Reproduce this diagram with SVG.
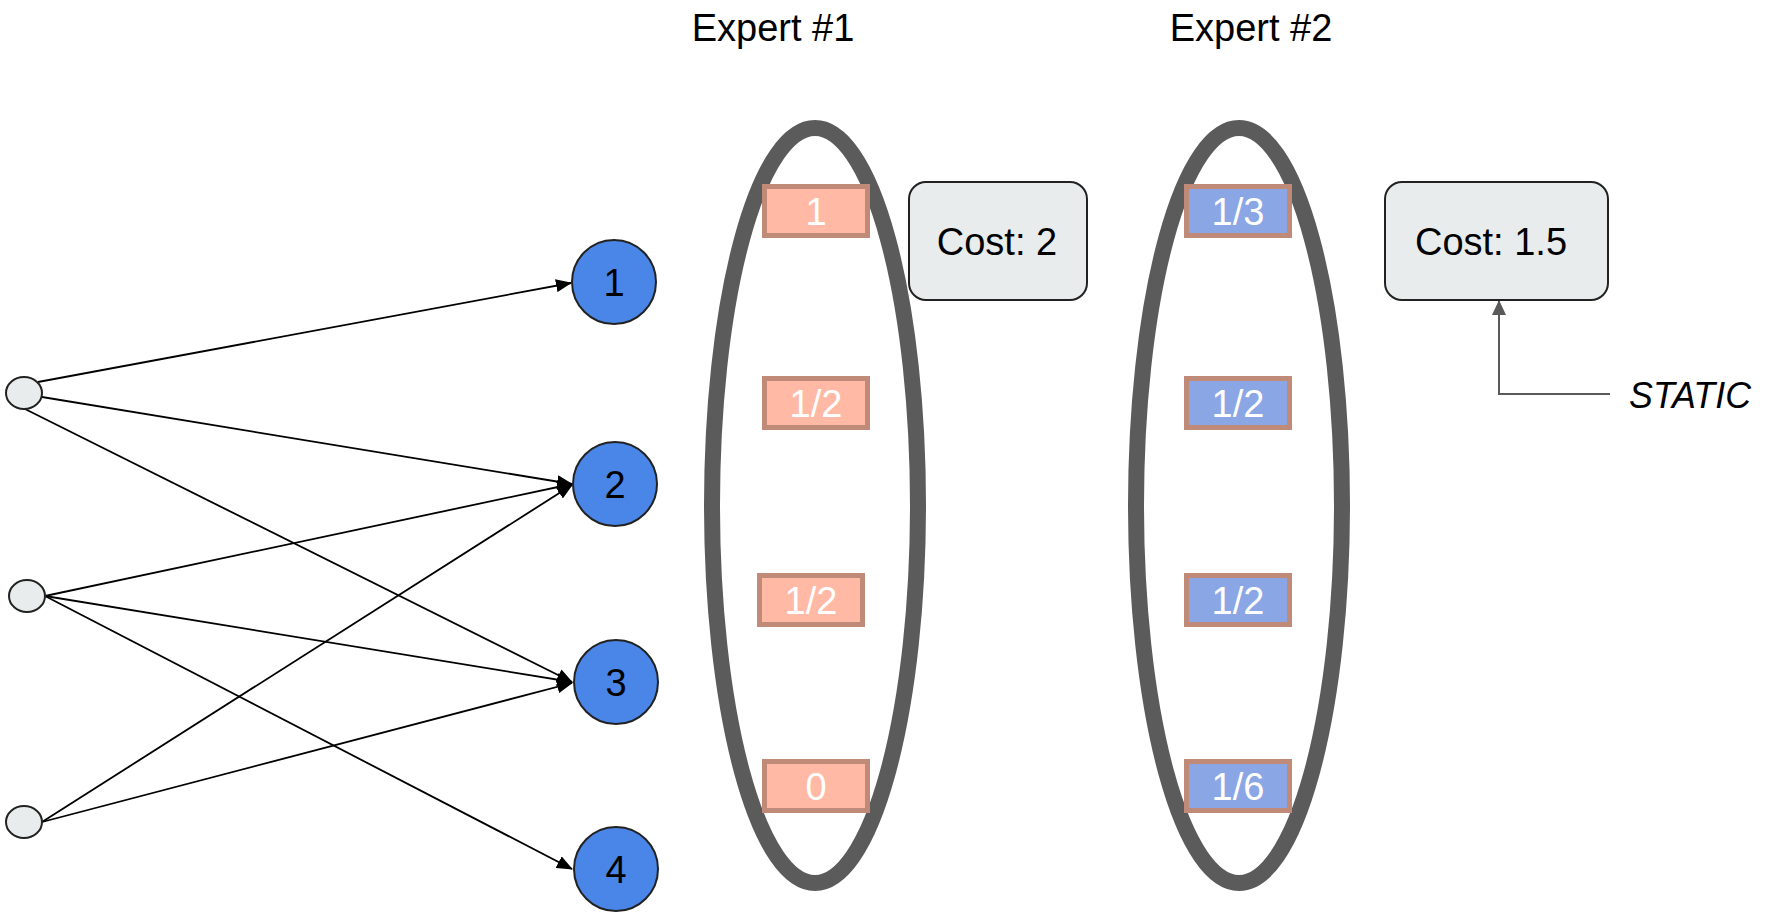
<svg xmlns="http://www.w3.org/2000/svg" width="1775" height="916" viewBox="0 0 1775 916">
<defs>
<marker id="ah" markerUnits="userSpaceOnUse" viewBox="0 0 16 13" refX="15" refY="6.5" markerWidth="16" markerHeight="13" orient="auto"><path d="M0,0 L16,6.5 L0,13 z" fill="#000"/></marker>
<marker id="ahg" markerUnits="userSpaceOnUse" viewBox="0 0 15 14" refX="14" refY="7" markerWidth="15" markerHeight="14" orient="auto"><path d="M0,0 L15,7 L0,14 z" fill="#595959"/></marker>
<style>
.t{font-family:"Liberation Sans",Arial,sans-serif;font-size:38px;text-anchor:middle}
.in{fill:#e8ecec;stroke:#222;stroke-width:2}
.bn{fill:#4a86e8;stroke:#222;stroke-width:2}
.ex{fill:none;stroke:#5b5b5b;stroke-width:16}
.lr{fill:#ffb9a4;stroke:#bf8a78;stroke-width:5}
.lb{fill:#8aa6e5;stroke:#bf8a78;stroke-width:5}
.w{fill:#fff}
.cost{fill:#e8ecec;stroke:#222;stroke-width:2}
.cn line{stroke:#000;stroke-width:1.8;marker-end:url(#ah)}
</style>
</defs>
<rect width="1775" height="916" fill="#fff"/>

<g id="title1"><text class="t" x="773" y="41">Expert #1</text></g>
<g id="title2"><text class="t" x="1251" y="41">Expert #2</text></g>

<g id="connectors" class="cn">
<line x1="38" y1="382" x2="571" y2="283"/>
<line x1="42" y1="397" x2="572" y2="484"/>
<line x1="25" y1="409" x2="572" y2="682"/>
<line x1="45" y1="596" x2="572" y2="484"/>
<line x1="45" y1="596" x2="572" y2="682"/>
<line x1="45" y1="596" x2="572" y2="869"/>
<line x1="42" y1="822" x2="572" y2="485"/>
<line x1="42" y1="822" x2="572" y2="683"/>
<path d="M1610,394 H1499 V301" fill="none" stroke="#595959" stroke-width="2" marker-end="url(#ahg)"/>
</g>

<g id="in1"><ellipse class="in" cx="24" cy="393" rx="18" ry="16"/></g>
<g id="in2"><ellipse class="in" cx="27" cy="596" rx="18" ry="16"/></g>
<g id="in3"><ellipse class="in" cx="24" cy="822" rx="18" ry="16"/></g>

<g id="n1"><circle class="bn" cx="614" cy="282" r="42"/><text class="t" x="614" y="295.5">1</text></g>
<g id="n2"><circle class="bn" cx="615" cy="484" r="42"/><text class="t" x="615" y="497.5">2</text></g>
<g id="n3"><circle class="bn" cx="616" cy="682" r="42"/><text class="t" x="616" y="695.5">3</text></g>
<g id="n4"><circle class="bn" cx="616" cy="869" r="42"/><text class="t" x="616" y="882.5">4</text></g>

<g id="expert1">
<ellipse class="ex" cx="815" cy="505.5" rx="103" ry="377.5"/>
<g id="e1b1"><rect class="lr" x="764.5" y="186.5" width="103" height="49"/><text class="t w" x="816" y="224.5">1</text></g>
<g id="e1b2"><rect class="lr" x="764.5" y="378.5" width="103" height="49"/><text class="t w" x="816" y="416.5">1/2</text></g>
<g id="e1b3"><rect class="lr" x="759.5" y="575.5" width="103" height="49"/><text class="t w" x="811" y="613.5">1/2</text></g>
<g id="e1b4"><rect class="lr" x="764.5" y="761.5" width="103" height="49"/><text class="t w" x="816" y="799.5">0</text></g>
</g>

<g id="expert2">
<ellipse class="ex" cx="1239" cy="505.5" rx="103" ry="377.5"/>
<g id="e2b1"><rect class="lb" x="1186.5" y="186.5" width="103" height="49"/><text class="t w" x="1238" y="224.5">1/3</text></g>
<g id="e2b2"><rect class="lb" x="1186.5" y="378.5" width="103" height="49"/><text class="t w" x="1238" y="416.5">1/2</text></g>
<g id="e2b3"><rect class="lb" x="1186.5" y="575.5" width="103" height="49"/><text class="t w" x="1238" y="613.5">1/2</text></g>
<g id="e2b4"><rect class="lb" x="1186.5" y="761.5" width="103" height="49"/><text class="t w" x="1238" y="799.5">1/6</text></g>
</g>

<g id="cost1"><rect class="cost" x="909" y="182" width="178" height="118" rx="17"/><text class="t" x="997" y="254.5">Cost: 2</text></g>
<g id="cost2"><rect class="cost" x="1385" y="182" width="223" height="118" rx="17"/><text class="t" x="1491" y="254.5">Cost: 1.5</text></g>

<g id="static"><text x="1629" y="408" font-family="'Liberation Sans',Arial,sans-serif" font-style="italic" font-size="36" textLength="122" lengthAdjust="spacingAndGlyphs">STATIC</text></g>
</svg>
